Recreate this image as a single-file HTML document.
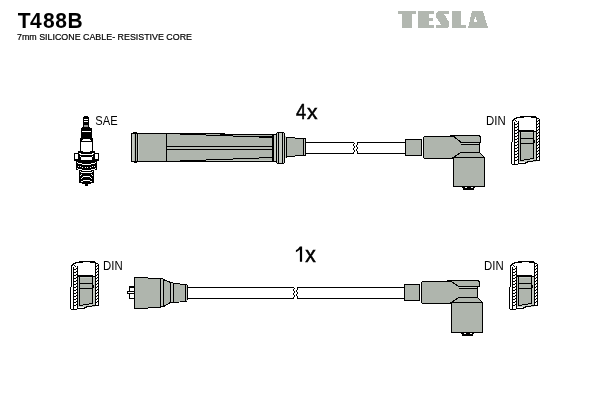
<!DOCTYPE html>
<html><head><meta charset="utf-8">
<style>
html,body{margin:0;padding:0;background:#fff;width:600px;height:400px;overflow:hidden}
svg{position:absolute;left:0;top:0}
text{font-family:"Liberation Sans",sans-serif;fill:#000}
svg{will-change:transform}
</style></head><body>
<svg width="600" height="400" viewBox="0 0 600 400" shape-rendering="crispEdges">
<text x="17.7 29.9 42.9 55.3 67.6" y="27.6" font-size="21" font-weight="bold" transform="translate(0,-1.38) scale(1,1.05)">T488B</text>
<text x="17" y="40" font-size="9" stroke="#000" stroke-width="0.2" textLength="175" lengthAdjust="spacingAndGlyphs">7mm SILICONE CABLE- RESISTIVE CORE</text>
<text transform="translate(296,119) scale(0.87,1.06)" font-size="21" stroke="#000" stroke-width="0.5">4</text><text transform="translate(307,119) scale(1,1.0)" font-size="21" stroke="#000" stroke-width="0.5">x</text>
<path d="M299.9,246.4 H302.1 V261.8 H299.9 V249.6 Q298.2,251.4 295.9,252.3 V250.2 Q298.4,248.8 299.9,246.4 Z" fill="#000" shape-rendering="geometricPrecision"/><text transform="translate(305.3,261.8) scale(1,1.06)" font-size="21" stroke="#000" stroke-width="0.5">x</text>
<text x="95.3" y="124.8" font-size="12" textLength="22.3" lengthAdjust="spacingAndGlyphs">SAE</text>
<text x="486" y="124.7" font-size="12" textLength="19.6" lengthAdjust="spacingAndGlyphs">DIN</text>
<text x="103.1" y="269.6" font-size="12" textLength="19.6" lengthAdjust="spacingAndGlyphs">DIN</text>
<text x="484" y="269.6" font-size="12" textLength="19.6" lengthAdjust="spacingAndGlyphs">DIN</text>
<rect x="398" y="11" width="18" height="3" fill="#b2b7b0"/>
<rect x="402" y="14" width="10" height="14" fill="#b2b7b0"/>
<rect x="418" y="11" width="11" height="17" fill="#b2b7b0"/>
<rect x="429" y="11" width="5" height="3" fill="#b2b7b0"/>
<rect x="429" y="18" width="4" height="3" fill="#b2b7b0"/>
<rect x="429" y="24.5" width="5" height="3.5" fill="#b2b7b0"/>
<polygon points="438,11 449,11 449,14 444,14 449,22 449,26 447,28 436,28 436,24.5 441,24.5 436,17 436,13" fill="#b2b7b0"/>
<rect x="452" y="11" width="9" height="17" fill="#b2b7b0"/>
<rect x="461" y="24.5" width="5" height="3.5" fill="#b2b7b0"/>
<path d="M472,11 H483 L488,28 H468 Z M473.5,22 H477 L475.5,17 Z" fill="#b2b7b0" fill-rule="evenodd"/>
<rect x="84" y="116" width="4" height="1" fill="#000"/>
<rect x="83" y="117" width="6" height="10" fill="#000"/>
<rect x="84" y="119" width="4" height="1" fill="#fff"/>
<rect x="84" y="121" width="4" height="1" fill="#fff"/>
<rect x="84" y="125" width="4" height="2" fill="#9a9a9a"/>
<rect x="82" y="127" width="8" height="1" fill="#000"/>
<rect x="81" y="128" width="11" height="10" fill="#000"/>
<rect x="82" y="131" width="9" height="1" fill="#fff"/>
<rect x="80" y="138" width="13" height="15" fill="#000"/>
<rect x="81" y="142" width="11" height="9" fill="#fff"/>
<rect x="83" y="151" width="7" height="1" fill="#fff"/>
<rect x="83" y="139" width="7" height="2" fill="#fff"/>
<rect x="82" y="140" width="1" height="1" fill="#fff"/>
<rect x="90" y="140" width="1" height="1" fill="#fff"/>
<rect x="78" y="151" width="17" height="2" fill="#000"/>
<rect x="81" y="151" width="11" height="1" fill="#fff"/>
<rect x="81" y="151" width="2" height="1" fill="#000"/>
<rect x="90" y="151" width="2" height="1" fill="#000"/>
<rect x="74" y="153" width="25" height="8" fill="#000"/>
<rect x="75" y="154" width="3" height="5" fill="#fff"/>
<rect x="95" y="154" width="3" height="5" fill="#fff"/>
<rect x="80" y="154" width="13" height="1" fill="#fff"/>
<rect x="79" y="153" width="2" height="1" fill="#fff"/>
<rect x="92" y="153" width="2" height="1" fill="#fff"/>
<rect x="80" y="156" width="1" height="1" fill="#fff"/>
<rect x="92" y="156" width="1" height="1" fill="#fff"/>
<rect x="81" y="157" width="11" height="3" fill="#fff"/>
<rect x="76" y="160" width="21" height="10" fill="#000"/>
<rect x="77" y="162" width="1" height="1" fill="#fff"/>
<rect x="95" y="162" width="1" height="1" fill="#fff"/>
<rect x="78" y="163" width="4" height="1" fill="#fff"/>
<rect x="91" y="163" width="4" height="1" fill="#fff"/>
<rect x="82" y="164" width="9" height="1" fill="#fff"/>
<rect x="78" y="166" width="1" height="1" fill="#fff"/>
<rect x="94" y="166" width="1" height="1" fill="#fff"/>
<rect x="80" y="166" width="1" height="1" fill="#fff"/>
<rect x="92" y="166" width="1" height="1" fill="#fff"/>
<rect x="82" y="167" width="1" height="1" fill="#fff"/>
<rect x="90" y="167" width="1" height="1" fill="#fff"/>
<rect x="85" y="167" width="1" height="1" fill="#fff"/>
<rect x="87" y="167" width="1" height="1" fill="#fff"/>
<rect x="77" y="168" width="1" height="1" fill="#fff"/>
<rect x="95" y="168" width="1" height="1" fill="#fff"/>
<rect x="78" y="169" width="4" height="1" fill="#fff"/>
<rect x="91" y="169" width="4" height="1" fill="#fff"/>
<rect x="82" y="170" width="9" height="1" fill="#fff"/>
<rect x="79" y="170" width="15" height="13" fill="#000"/>
<rect x="82" y="170" width="9" height="1" fill="#fff"/>
<rect x="80" y="171" width="1" height="1" fill="#fff"/>
<rect x="92" y="171" width="1" height="1" fill="#fff"/>
<rect x="81" y="172" width="11" height="1" fill="#fff"/>
<rect x="81" y="174" width="1" height="1" fill="#fff"/>
<rect x="91" y="174" width="1" height="1" fill="#fff"/>
<rect x="80" y="175" width="1" height="1" fill="#fff"/>
<rect x="92" y="175" width="1" height="1" fill="#fff"/>
<rect x="83" y="176" width="7" height="1" fill="#fff"/>
<rect x="82" y="177" width="1" height="1" fill="#fff"/>
<rect x="90" y="177" width="1" height="1" fill="#fff"/>
<rect x="81" y="178" width="1" height="1" fill="#fff"/>
<rect x="91" y="178" width="1" height="1" fill="#fff"/>
<rect x="83" y="180" width="7" height="1" fill="#fff"/>
<rect x="81" y="181" width="2" height="1" fill="#fff"/>
<rect x="90" y="181" width="2" height="1" fill="#fff"/>
<rect x="82" y="183" width="9" height="1" fill="#000"/>
<rect x="85" y="184" width="3" height="2" fill="#000"/>
<rect x="131" y="133" width="7" height="29" fill="#000"/>
<rect x="132" y="134" width="5" height="27" fill="#afb5ad"/>
<rect x="133" y="132" width="4" height="1" fill="#000"/>
<rect x="134" y="162" width="3" height="1" fill="#000"/>
<rect x="132" y="134" width="2" height="27" fill="#c6cbc4"/>
<rect x="135" y="133" width="1" height="29" fill="#000"/>
<rect x="136" y="134" width="1" height="27" fill="#afb5ad"/>
<rect x="137" y="133" width="1" height="29" fill="#000"/>
<rect x="138" y="133" width="135" height="29" fill="#000"/>
<rect x="138" y="134" width="134" height="27" fill="#afb5ad"/>
<rect x="138" y="134" width="1" height="27" fill="#c6cbc4"/>
<rect x="166" y="133" width="1" height="29" fill="#000"/>
<rect x="180" y="134" width="26" height="1" fill="#000"/>
<rect x="220" y="134" width="53" height="1" fill="#000"/>
<rect x="206" y="135" width="14" height="1" fill="#000"/>
<rect x="220" y="135" width="13" height="1" fill="#000"/>
<rect x="233" y="136" width="26" height="1" fill="#000"/>
<rect x="259" y="136" width="13" height="2" fill="#000"/>
<rect x="225" y="133" width="48" height="1" fill="#fff"/>
<rect x="180" y="160" width="26" height="1" fill="#000"/>
<rect x="206" y="159" width="27" height="1" fill="#000"/>
<rect x="233" y="158" width="26" height="1" fill="#000"/>
<rect x="259" y="157" width="13" height="1" fill="#000"/>
<rect x="206" y="160" width="67" height="1" fill="#c6cbc4"/>
<rect x="167" y="146" width="105" height="1" fill="#000"/>
<rect x="167" y="147" width="105" height="2" fill="#b8bdb6"/>
<rect x="167" y="149" width="105" height="1" fill="#000"/>
<rect x="272" y="134" width="2" height="28" fill="#000"/>
<rect x="274" y="134" width="2" height="28" fill="#000"/>
<rect x="274" y="135" width="2" height="26" fill="#c6cbc4"/>
<rect x="276" y="133" width="9" height="30" fill="#000"/>
<rect x="277" y="132" width="7" height="1" fill="#000"/>
<rect x="277" y="163" width="7" height="1" fill="#000"/>
<rect x="277" y="133" width="1" height="30" fill="#c6cbc4"/>
<rect x="279" y="133" width="3" height="30" fill="#c6cbc4"/>
<rect x="283" y="133" width="1" height="30" fill="#c6cbc4"/>
<rect x="285" y="136" width="1" height="22" fill="#c6cbc4"/>
<rect x="286" y="137" width="1" height="21" fill="#000"/>
<rect x="286" y="137" width="9" height="20" fill="#000"/>
<rect x="287" y="138" width="8" height="18" fill="#afb5ad"/>
<rect x="295" y="138" width="9" height="18" fill="#000"/>
<rect x="295" y="139" width="8" height="16" fill="#afb5ad"/>
<rect x="303" y="138" width="3" height="18" fill="#000"/>
<rect x="304" y="139" width="1" height="16" fill="#c6cbc4"/>
<rect x="286" y="137" width="1" height="20" fill="#000"/>
<rect x="306" y="142" width="48" height="1" fill="#000"/>
<rect x="306" y="153" width="48" height="1" fill="#000"/>
<rect x="357" y="142" width="48" height="1" fill="#000"/>
<rect x="357" y="153" width="48" height="1" fill="#000"/>
<rect x="354" y="143" width="1" height="1" fill="#000"/>
<rect x="353" y="144" width="1" height="1" fill="#000"/>
<rect x="353" y="145" width="1" height="1" fill="#000"/>
<rect x="354" y="146" width="1" height="1" fill="#000"/>
<rect x="354" y="147" width="1" height="1" fill="#000"/>
<rect x="353" y="148" width="1" height="1" fill="#000"/>
<rect x="353" y="149" width="1" height="1" fill="#000"/>
<rect x="354" y="150" width="1" height="1" fill="#000"/>
<rect x="354" y="151" width="1" height="1" fill="#000"/>
<rect x="353" y="152" width="1" height="1" fill="#000"/>
<rect x="357" y="143" width="1" height="1" fill="#000"/>
<rect x="357" y="144" width="1" height="1" fill="#000"/>
<rect x="356" y="145" width="1" height="1" fill="#000"/>
<rect x="356" y="146" width="1" height="1" fill="#000"/>
<rect x="357" y="147" width="1" height="1" fill="#000"/>
<rect x="357" y="148" width="1" height="1" fill="#000"/>
<rect x="356" y="149" width="1" height="1" fill="#000"/>
<rect x="356" y="150" width="1" height="1" fill="#000"/>
<rect x="357" y="151" width="1" height="1" fill="#000"/>
<rect x="357" y="152" width="1" height="1" fill="#000"/>
<rect x="188" y="287" width="106" height="1" fill="#000"/>
<rect x="188" y="298" width="106" height="1" fill="#000"/>
<rect x="297" y="287" width="107" height="1" fill="#000"/>
<rect x="297" y="298" width="107" height="1" fill="#000"/>
<rect x="294" y="288" width="1" height="1" fill="#000"/>
<rect x="293" y="289" width="1" height="1" fill="#000"/>
<rect x="293" y="290" width="1" height="1" fill="#000"/>
<rect x="294" y="291" width="1" height="1" fill="#000"/>
<rect x="294" y="292" width="1" height="1" fill="#000"/>
<rect x="293" y="293" width="1" height="1" fill="#000"/>
<rect x="293" y="294" width="1" height="1" fill="#000"/>
<rect x="294" y="295" width="1" height="1" fill="#000"/>
<rect x="294" y="296" width="1" height="1" fill="#000"/>
<rect x="293" y="297" width="1" height="1" fill="#000"/>
<rect x="297" y="288" width="1" height="1" fill="#000"/>
<rect x="297" y="289" width="1" height="1" fill="#000"/>
<rect x="296" y="290" width="1" height="1" fill="#000"/>
<rect x="296" y="291" width="1" height="1" fill="#000"/>
<rect x="297" y="292" width="1" height="1" fill="#000"/>
<rect x="297" y="293" width="1" height="1" fill="#000"/>
<rect x="296" y="294" width="1" height="1" fill="#000"/>
<rect x="296" y="295" width="1" height="1" fill="#000"/>
<rect x="297" y="296" width="1" height="1" fill="#000"/>
<rect x="297" y="297" width="1" height="1" fill="#000"/>
<rect x="405" y="139" width="17" height="17" fill="#000"/>
<rect x="406" y="140" width="15" height="15" fill="#afb5ad"/>
<rect x="422" y="139" width="1" height="17" fill="#fff"/>
<rect x="423" y="136" width="41" height="23" fill="#000"/>
<rect x="424" y="137" width="39" height="21" fill="#afb5ad"/>
<rect x="423" y="136" width="1" height="1" fill="#fff"/>
<rect x="423" y="158" width="1" height="1" fill="#fff"/>
<polygon points="450,135.5 479,135.5 480.5,137 480.5,142.5 461,142.5 454,136.5" fill="#afb5ad" stroke="#000" stroke-width="1.1" stroke-linejoin="miter"/>
<rect x="461" y="142" width="19" height="11" fill="#000"/>
<rect x="461" y="143" width="18" height="9" fill="#afb5ad"/>
<rect x="461" y="143" width="18" height="1" fill="#c6cbc4"/>
<rect x="461" y="144" width="18" height="1" fill="#000"/>
<polygon points="461,152.5 479.5,152.5 484.5,157.5 453.5,157.5" fill="#afb5ad" stroke="#000" stroke-width="1.1" stroke-linejoin="miter"/>
<polygon points="451,137 454,137 461,143 461,152 453.5,157 449,157 449,137" fill="#afb5ad"/>
<line x1="454" y1="136.5" x2="461" y2="142.5" stroke="#000" stroke-width="1.1"/>
<line x1="461" y1="152.5" x2="453.5" y2="157.5" stroke="#000" stroke-width="1.1"/>
<rect x="453" y="157" width="32" height="30" fill="#000"/>
<rect x="454" y="158" width="30" height="28" fill="#afb5ad"/>
<rect x="462" y="187" width="13" height="1" fill="#000"/>
<rect x="463" y="188" width="11" height="2" fill="#000"/>
<rect x="465" y="187" width="2" height="1" fill="#fff"/>
<rect x="471" y="187" width="2" height="1" fill="#fff"/>
<rect x="404" y="284" width="16" height="17" fill="#000"/>
<rect x="405" y="285" width="14" height="15" fill="#afb5ad"/>
<rect x="420" y="284" width="1" height="17" fill="#fff"/>
<rect x="421" y="281" width="41" height="23" fill="#000"/>
<rect x="422" y="282" width="39" height="21" fill="#afb5ad"/>
<rect x="421" y="281" width="1" height="1" fill="#fff"/>
<rect x="421" y="303" width="1" height="1" fill="#fff"/>
<polygon points="447,280.5 478,280.5 479.5,282 479.5,286.5 459,286.5 451,281.5" fill="#afb5ad" stroke="#000" stroke-width="1.1" stroke-linejoin="miter"/>
<rect x="459" y="286" width="19" height="12" fill="#000"/>
<rect x="459" y="287" width="18" height="10" fill="#afb5ad"/>
<rect x="459" y="287" width="18" height="1" fill="#c6cbc4"/>
<rect x="459" y="288" width="18" height="1" fill="#000"/>
<polygon points="459,297.5 477.5,297.5 482.5,302.5 451.5,302.5" fill="#afb5ad" stroke="#000" stroke-width="1.1" stroke-linejoin="miter"/>
<polygon points="448,282 451,282 459,287 459,297 451.5,302 447,302 447,282" fill="#afb5ad"/>
<line x1="451" y1="281.5" x2="459" y2="286.5" stroke="#000" stroke-width="1.1"/>
<line x1="459" y1="297.5" x2="451.5" y2="302.5" stroke="#000" stroke-width="1.1"/>
<rect x="451" y="302" width="32" height="31" fill="#000"/>
<rect x="452" y="303" width="30" height="29" fill="#afb5ad"/>
<rect x="461" y="333" width="13" height="1" fill="#000"/>
<rect x="462" y="334" width="11" height="2" fill="#000"/>
<rect x="464" y="333" width="2" height="1" fill="#fff"/>
<rect x="470" y="333" width="2" height="1" fill="#fff"/>
<rect x="129" y="286" width="6" height="13" fill="#000"/>
<rect x="127" y="291" width="3" height="3" fill="#000"/>
<rect x="130" y="288" width="4" height="3" fill="#fff"/>
<rect x="128" y="292" width="6" height="1" fill="#fff"/>
<rect x="130" y="294" width="4" height="4" fill="#fff"/>
<rect x="134" y="277" width="14" height="32" fill="#000"/>
<rect x="148" y="278" width="13" height="30" fill="#000"/>
<rect x="135" y="278" width="13" height="30" fill="#afb5ad"/>
<rect x="148" y="279" width="12" height="28" fill="#afb5ad"/>
<rect x="161" y="278" width="2" height="29" fill="#c0c4be"/>
<rect x="161" y="278" width="2" height="1" fill="#000"/>
<rect x="161" y="306" width="2" height="1" fill="#000"/>
<rect x="163" y="279" width="1" height="28" fill="#000"/>
<polygon points="163.5,279.5 170.5,282.5 170.5,302.5 163.5,306.5" fill="#afb5ad" stroke="#000" stroke-width="1.1" stroke-linejoin="miter"/>
<rect x="170" y="282" width="1" height="21" fill="#000"/>
<rect x="171" y="282" width="2" height="21" fill="#c0c4be"/>
<rect x="171" y="282" width="2" height="1" fill="#000"/>
<rect x="171" y="302" width="2" height="1" fill="#000"/>
<rect x="173" y="283" width="1" height="20" fill="#000"/>
<rect x="174" y="283" width="6" height="1" fill="#000"/>
<rect x="180" y="284" width="7" height="1" fill="#000"/>
<rect x="174" y="302" width="5" height="1" fill="#000"/>
<rect x="179" y="301" width="8" height="1" fill="#000"/>
<rect x="174" y="284" width="6" height="18" fill="#afb5ad"/>
<rect x="180" y="285" width="5" height="16" fill="#afb5ad"/>
<rect x="185" y="284" width="1" height="18" fill="#000"/>
<rect x="186" y="285" width="1" height="16" fill="#c0c4be"/>
<rect x="187" y="285" width="1" height="15" fill="#000"/>
<rect x="519" y="131" width="17" height="31" fill="#c6cbc4"/>
<rect x="520" y="116" width="16" height="1" fill="#000"/>
<rect x="516" y="117" width="8" height="1" fill="#000"/>
<rect x="531" y="117" width="5" height="1" fill="#000"/>
<rect x="514" y="118" width="3" height="1" fill="#000"/>
<rect x="513" y="119" width="2" height="1" fill="#000"/>
<rect x="512" y="120" width="2" height="1" fill="#000"/>
<rect x="515" y="120" width="1" height="1" fill="#000"/>
<rect x="516" y="121" width="1" height="1" fill="#000"/>
<rect x="536" y="117" width="1" height="1" fill="#000"/>
<rect x="537" y="118" width="1" height="1" fill="#000"/>
<rect x="538" y="118" width="1" height="1" fill="#000"/>
<rect x="512" y="120" width="1" height="22" fill="#000"/>
<rect x="511" y="142" width="1" height="22" fill="#000"/>
<rect x="512" y="164" width="6" height="1" fill="#000"/>
<rect x="514" y="122" width="1" height="42" fill="#000"/>
<rect x="515" y="124" width="2" height="1" fill="#000"/>
<rect x="517" y="123" width="1" height="1" fill="#000"/>
<rect x="515" y="127" width="2" height="1" fill="#000"/>
<rect x="517" y="126" width="1" height="1" fill="#000"/>
<rect x="515" y="130" width="2" height="1" fill="#000"/>
<rect x="517" y="129" width="1" height="1" fill="#000"/>
<rect x="515" y="133" width="2" height="1" fill="#000"/>
<rect x="517" y="132" width="1" height="1" fill="#000"/>
<rect x="515" y="136" width="2" height="1" fill="#000"/>
<rect x="517" y="135" width="1" height="1" fill="#000"/>
<rect x="515" y="139" width="2" height="1" fill="#000"/>
<rect x="517" y="138" width="1" height="1" fill="#000"/>
<rect x="515" y="142" width="2" height="1" fill="#000"/>
<rect x="517" y="141" width="1" height="1" fill="#000"/>
<rect x="515" y="145" width="2" height="1" fill="#000"/>
<rect x="517" y="144" width="1" height="1" fill="#000"/>
<rect x="515" y="148" width="2" height="1" fill="#000"/>
<rect x="517" y="147" width="1" height="1" fill="#000"/>
<rect x="515" y="151" width="2" height="1" fill="#000"/>
<rect x="517" y="150" width="1" height="1" fill="#000"/>
<rect x="515" y="154" width="2" height="1" fill="#000"/>
<rect x="517" y="153" width="1" height="1" fill="#000"/>
<rect x="515" y="157" width="2" height="1" fill="#000"/>
<rect x="517" y="156" width="1" height="1" fill="#000"/>
<rect x="515" y="160" width="2" height="1" fill="#000"/>
<rect x="517" y="159" width="1" height="1" fill="#000"/>
<rect x="518" y="121" width="1" height="43" fill="#000"/>
<rect x="539" y="119" width="1" height="42" fill="#000"/>
<rect x="536" y="118" width="1" height="43" fill="#000"/>
<rect x="537" y="121" width="1" height="1" fill="#000"/>
<rect x="538" y="120" width="1" height="1" fill="#000"/>
<rect x="537" y="124" width="1" height="1" fill="#000"/>
<rect x="538" y="123" width="1" height="1" fill="#000"/>
<rect x="537" y="127" width="1" height="1" fill="#000"/>
<rect x="538" y="126" width="1" height="1" fill="#000"/>
<rect x="537" y="130" width="1" height="1" fill="#000"/>
<rect x="538" y="129" width="1" height="1" fill="#000"/>
<rect x="537" y="133" width="1" height="1" fill="#000"/>
<rect x="538" y="132" width="1" height="1" fill="#000"/>
<rect x="537" y="136" width="1" height="1" fill="#000"/>
<rect x="538" y="135" width="1" height="1" fill="#000"/>
<rect x="537" y="139" width="1" height="1" fill="#000"/>
<rect x="538" y="138" width="1" height="1" fill="#000"/>
<rect x="537" y="142" width="1" height="1" fill="#000"/>
<rect x="538" y="141" width="1" height="1" fill="#000"/>
<rect x="537" y="145" width="1" height="1" fill="#000"/>
<rect x="538" y="144" width="1" height="1" fill="#000"/>
<rect x="537" y="148" width="1" height="1" fill="#000"/>
<rect x="538" y="147" width="1" height="1" fill="#000"/>
<rect x="537" y="151" width="1" height="1" fill="#000"/>
<rect x="538" y="150" width="1" height="1" fill="#000"/>
<rect x="537" y="154" width="1" height="1" fill="#000"/>
<rect x="538" y="153" width="1" height="1" fill="#000"/>
<rect x="537" y="157" width="1" height="1" fill="#000"/>
<rect x="538" y="156" width="1" height="1" fill="#000"/>
<rect x="519" y="130" width="15" height="2" fill="#000"/>
<rect x="533" y="131" width="3" height="1" fill="#000"/>
<rect x="520" y="132" width="1" height="29" fill="#000"/>
<rect x="521" y="132" width="12" height="28" fill="#afb5ad"/>
<rect x="521" y="132" width="12" height="1" fill="#c6cbc4"/>
<rect x="521" y="138" width="12" height="1" fill="#000"/>
<rect x="521" y="143" width="12" height="1" fill="#000"/>
<rect x="533" y="132" width="1" height="27" fill="#000"/>
<rect x="534" y="140" width="1" height="3" fill="#000"/>
<rect x="521" y="160" width="3" height="1" fill="#000"/>
<rect x="524" y="159" width="6" height="1" fill="#000"/>
<rect x="530" y="158" width="3" height="1" fill="#000"/>
<rect x="524" y="160" width="6" height="1" fill="#c6cbc4"/>
<rect x="530" y="159" width="3" height="1" fill="#c6cbc4"/>
<rect x="518" y="163" width="8" height="1" fill="#000"/>
<rect x="525" y="162" width="3" height="1" fill="#000"/>
<rect x="527" y="161" width="6" height="1" fill="#000"/>
<rect x="533" y="160" width="7" height="1" fill="#000"/>
<rect x="78" y="276" width="17" height="31" fill="#c6cbc4"/>
<rect x="79" y="261" width="16" height="1" fill="#000"/>
<rect x="75" y="262" width="8" height="1" fill="#000"/>
<rect x="90" y="262" width="5" height="1" fill="#000"/>
<rect x="73" y="263" width="3" height="1" fill="#000"/>
<rect x="72" y="264" width="2" height="1" fill="#000"/>
<rect x="71" y="265" width="2" height="1" fill="#000"/>
<rect x="74" y="265" width="1" height="1" fill="#000"/>
<rect x="75" y="266" width="1" height="1" fill="#000"/>
<rect x="95" y="262" width="1" height="1" fill="#000"/>
<rect x="96" y="263" width="1" height="1" fill="#000"/>
<rect x="97" y="263" width="1" height="1" fill="#000"/>
<rect x="71" y="265" width="1" height="22" fill="#000"/>
<rect x="70" y="287" width="1" height="22" fill="#000"/>
<rect x="71" y="309" width="6" height="1" fill="#000"/>
<rect x="73" y="267" width="1" height="42" fill="#000"/>
<rect x="74" y="269" width="2" height="1" fill="#000"/>
<rect x="76" y="268" width="1" height="1" fill="#000"/>
<rect x="74" y="272" width="2" height="1" fill="#000"/>
<rect x="76" y="271" width="1" height="1" fill="#000"/>
<rect x="74" y="275" width="2" height="1" fill="#000"/>
<rect x="76" y="274" width="1" height="1" fill="#000"/>
<rect x="74" y="278" width="2" height="1" fill="#000"/>
<rect x="76" y="277" width="1" height="1" fill="#000"/>
<rect x="74" y="281" width="2" height="1" fill="#000"/>
<rect x="76" y="280" width="1" height="1" fill="#000"/>
<rect x="74" y="284" width="2" height="1" fill="#000"/>
<rect x="76" y="283" width="1" height="1" fill="#000"/>
<rect x="74" y="287" width="2" height="1" fill="#000"/>
<rect x="76" y="286" width="1" height="1" fill="#000"/>
<rect x="74" y="290" width="2" height="1" fill="#000"/>
<rect x="76" y="289" width="1" height="1" fill="#000"/>
<rect x="74" y="293" width="2" height="1" fill="#000"/>
<rect x="76" y="292" width="1" height="1" fill="#000"/>
<rect x="74" y="296" width="2" height="1" fill="#000"/>
<rect x="76" y="295" width="1" height="1" fill="#000"/>
<rect x="74" y="299" width="2" height="1" fill="#000"/>
<rect x="76" y="298" width="1" height="1" fill="#000"/>
<rect x="74" y="302" width="2" height="1" fill="#000"/>
<rect x="76" y="301" width="1" height="1" fill="#000"/>
<rect x="74" y="305" width="2" height="1" fill="#000"/>
<rect x="76" y="304" width="1" height="1" fill="#000"/>
<rect x="77" y="266" width="1" height="43" fill="#000"/>
<rect x="98" y="264" width="1" height="42" fill="#000"/>
<rect x="95" y="263" width="1" height="43" fill="#000"/>
<rect x="96" y="266" width="1" height="1" fill="#000"/>
<rect x="97" y="265" width="1" height="1" fill="#000"/>
<rect x="96" y="269" width="1" height="1" fill="#000"/>
<rect x="97" y="268" width="1" height="1" fill="#000"/>
<rect x="96" y="272" width="1" height="1" fill="#000"/>
<rect x="97" y="271" width="1" height="1" fill="#000"/>
<rect x="96" y="275" width="1" height="1" fill="#000"/>
<rect x="97" y="274" width="1" height="1" fill="#000"/>
<rect x="96" y="278" width="1" height="1" fill="#000"/>
<rect x="97" y="277" width="1" height="1" fill="#000"/>
<rect x="96" y="281" width="1" height="1" fill="#000"/>
<rect x="97" y="280" width="1" height="1" fill="#000"/>
<rect x="96" y="284" width="1" height="1" fill="#000"/>
<rect x="97" y="283" width="1" height="1" fill="#000"/>
<rect x="96" y="287" width="1" height="1" fill="#000"/>
<rect x="97" y="286" width="1" height="1" fill="#000"/>
<rect x="96" y="290" width="1" height="1" fill="#000"/>
<rect x="97" y="289" width="1" height="1" fill="#000"/>
<rect x="96" y="293" width="1" height="1" fill="#000"/>
<rect x="97" y="292" width="1" height="1" fill="#000"/>
<rect x="96" y="296" width="1" height="1" fill="#000"/>
<rect x="97" y="295" width="1" height="1" fill="#000"/>
<rect x="96" y="299" width="1" height="1" fill="#000"/>
<rect x="97" y="298" width="1" height="1" fill="#000"/>
<rect x="96" y="302" width="1" height="1" fill="#000"/>
<rect x="97" y="301" width="1" height="1" fill="#000"/>
<rect x="78" y="275" width="15" height="2" fill="#000"/>
<rect x="92" y="276" width="3" height="1" fill="#000"/>
<rect x="79" y="277" width="1" height="29" fill="#000"/>
<rect x="80" y="277" width="12" height="28" fill="#afb5ad"/>
<rect x="80" y="277" width="12" height="1" fill="#c6cbc4"/>
<rect x="80" y="283" width="12" height="1" fill="#000"/>
<rect x="80" y="288" width="12" height="1" fill="#000"/>
<rect x="92" y="277" width="1" height="27" fill="#000"/>
<rect x="93" y="285" width="1" height="3" fill="#000"/>
<rect x="80" y="305" width="3" height="1" fill="#000"/>
<rect x="83" y="304" width="6" height="1" fill="#000"/>
<rect x="89" y="303" width="3" height="1" fill="#000"/>
<rect x="83" y="305" width="6" height="1" fill="#c6cbc4"/>
<rect x="89" y="304" width="3" height="1" fill="#c6cbc4"/>
<rect x="77" y="308" width="8" height="1" fill="#000"/>
<rect x="84" y="307" width="3" height="1" fill="#000"/>
<rect x="86" y="306" width="6" height="1" fill="#000"/>
<rect x="92" y="305" width="7" height="1" fill="#000"/>
<rect x="517" y="276" width="17" height="31" fill="#c6cbc4"/>
<rect x="518" y="261" width="16" height="1" fill="#000"/>
<rect x="514" y="262" width="8" height="1" fill="#000"/>
<rect x="529" y="262" width="5" height="1" fill="#000"/>
<rect x="512" y="263" width="3" height="1" fill="#000"/>
<rect x="511" y="264" width="2" height="1" fill="#000"/>
<rect x="510" y="265" width="2" height="1" fill="#000"/>
<rect x="513" y="265" width="1" height="1" fill="#000"/>
<rect x="514" y="266" width="1" height="1" fill="#000"/>
<rect x="534" y="262" width="1" height="1" fill="#000"/>
<rect x="535" y="263" width="1" height="1" fill="#000"/>
<rect x="536" y="263" width="1" height="1" fill="#000"/>
<rect x="510" y="265" width="1" height="22" fill="#000"/>
<rect x="509" y="287" width="1" height="22" fill="#000"/>
<rect x="510" y="309" width="6" height="1" fill="#000"/>
<rect x="512" y="267" width="1" height="42" fill="#000"/>
<rect x="513" y="269" width="2" height="1" fill="#000"/>
<rect x="515" y="268" width="1" height="1" fill="#000"/>
<rect x="513" y="272" width="2" height="1" fill="#000"/>
<rect x="515" y="271" width="1" height="1" fill="#000"/>
<rect x="513" y="275" width="2" height="1" fill="#000"/>
<rect x="515" y="274" width="1" height="1" fill="#000"/>
<rect x="513" y="278" width="2" height="1" fill="#000"/>
<rect x="515" y="277" width="1" height="1" fill="#000"/>
<rect x="513" y="281" width="2" height="1" fill="#000"/>
<rect x="515" y="280" width="1" height="1" fill="#000"/>
<rect x="513" y="284" width="2" height="1" fill="#000"/>
<rect x="515" y="283" width="1" height="1" fill="#000"/>
<rect x="513" y="287" width="2" height="1" fill="#000"/>
<rect x="515" y="286" width="1" height="1" fill="#000"/>
<rect x="513" y="290" width="2" height="1" fill="#000"/>
<rect x="515" y="289" width="1" height="1" fill="#000"/>
<rect x="513" y="293" width="2" height="1" fill="#000"/>
<rect x="515" y="292" width="1" height="1" fill="#000"/>
<rect x="513" y="296" width="2" height="1" fill="#000"/>
<rect x="515" y="295" width="1" height="1" fill="#000"/>
<rect x="513" y="299" width="2" height="1" fill="#000"/>
<rect x="515" y="298" width="1" height="1" fill="#000"/>
<rect x="513" y="302" width="2" height="1" fill="#000"/>
<rect x="515" y="301" width="1" height="1" fill="#000"/>
<rect x="513" y="305" width="2" height="1" fill="#000"/>
<rect x="515" y="304" width="1" height="1" fill="#000"/>
<rect x="516" y="266" width="1" height="43" fill="#000"/>
<rect x="537" y="264" width="1" height="42" fill="#000"/>
<rect x="534" y="263" width="1" height="43" fill="#000"/>
<rect x="535" y="266" width="1" height="1" fill="#000"/>
<rect x="536" y="265" width="1" height="1" fill="#000"/>
<rect x="535" y="269" width="1" height="1" fill="#000"/>
<rect x="536" y="268" width="1" height="1" fill="#000"/>
<rect x="535" y="272" width="1" height="1" fill="#000"/>
<rect x="536" y="271" width="1" height="1" fill="#000"/>
<rect x="535" y="275" width="1" height="1" fill="#000"/>
<rect x="536" y="274" width="1" height="1" fill="#000"/>
<rect x="535" y="278" width="1" height="1" fill="#000"/>
<rect x="536" y="277" width="1" height="1" fill="#000"/>
<rect x="535" y="281" width="1" height="1" fill="#000"/>
<rect x="536" y="280" width="1" height="1" fill="#000"/>
<rect x="535" y="284" width="1" height="1" fill="#000"/>
<rect x="536" y="283" width="1" height="1" fill="#000"/>
<rect x="535" y="287" width="1" height="1" fill="#000"/>
<rect x="536" y="286" width="1" height="1" fill="#000"/>
<rect x="535" y="290" width="1" height="1" fill="#000"/>
<rect x="536" y="289" width="1" height="1" fill="#000"/>
<rect x="535" y="293" width="1" height="1" fill="#000"/>
<rect x="536" y="292" width="1" height="1" fill="#000"/>
<rect x="535" y="296" width="1" height="1" fill="#000"/>
<rect x="536" y="295" width="1" height="1" fill="#000"/>
<rect x="535" y="299" width="1" height="1" fill="#000"/>
<rect x="536" y="298" width="1" height="1" fill="#000"/>
<rect x="535" y="302" width="1" height="1" fill="#000"/>
<rect x="536" y="301" width="1" height="1" fill="#000"/>
<rect x="517" y="275" width="15" height="2" fill="#000"/>
<rect x="531" y="276" width="3" height="1" fill="#000"/>
<rect x="518" y="277" width="1" height="29" fill="#000"/>
<rect x="519" y="277" width="12" height="28" fill="#afb5ad"/>
<rect x="519" y="277" width="12" height="1" fill="#c6cbc4"/>
<rect x="519" y="283" width="12" height="1" fill="#000"/>
<rect x="519" y="288" width="12" height="1" fill="#000"/>
<rect x="531" y="277" width="1" height="27" fill="#000"/>
<rect x="532" y="285" width="1" height="3" fill="#000"/>
<rect x="519" y="305" width="3" height="1" fill="#000"/>
<rect x="522" y="304" width="6" height="1" fill="#000"/>
<rect x="528" y="303" width="3" height="1" fill="#000"/>
<rect x="522" y="305" width="6" height="1" fill="#c6cbc4"/>
<rect x="528" y="304" width="3" height="1" fill="#c6cbc4"/>
<rect x="516" y="308" width="8" height="1" fill="#000"/>
<rect x="523" y="307" width="3" height="1" fill="#000"/>
<rect x="525" y="306" width="6" height="1" fill="#000"/>
<rect x="531" y="305" width="7" height="1" fill="#000"/>
</svg>
</body></html>
